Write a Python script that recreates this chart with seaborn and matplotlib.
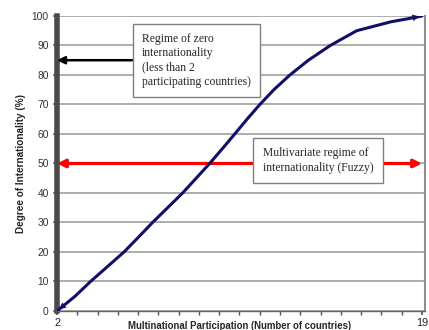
import numpy as np
import matplotlib
matplotlib.use('Agg')
import matplotlib.pyplot as plt
import pandas as pd
import seaborn as sns

# curve
countries = [2, 2.84, 3.56, 4.34, 5.12, 5.79, 6.45, 7.15, 7.85, 8.48, 9.11, 9.70,
             10.28, 10.85, 11.45, 12.1, 12.85, 13.71, 14.73, 15.96, 17.54, 18.3, 19]
degree = [0, 5, 10, 15, 20, 25, 30, 35, 40, 45, 50, 55,
          60, 65, 70, 75, 80, 85, 90, 95, 98, 99, 100]
yticks = [0, 10, 20, 30, 40, 50, 60, 70, 80, 90, 100]
xtick_labels = ['2', '19']
zero_level = 85
fuzzy_level = 50

sns.set_theme(style='white')
plt.rcParams['font.family'] = ['Liberation Sans', 'DejaVu Sans']

df = pd.DataFrame({'x': countries, 'y': degree})

fig = plt.figure(figsize=(4.29, 3.30), dpi=100)
ax = fig.add_axes([0.133, 0.0576, 0.858, 0.894])

for v in yticks:
    ax.axhline(v, color='#a0a0a0', lw=1.2, zorder=1)

sns.lineplot(data=df, x='x', y='y', ax=ax, color='#10106a', lw=2.2, zorder=4)
# arrowheads at both ends of the curve
ax.annotate('', xy=(countries[-1], degree[-1]), xytext=(countries[-2], degree[-2]),
            arrowprops=dict(arrowstyle='-|>', color='#10106a', lw=0, mutation_scale=12), zorder=5)
ax.annotate('', xy=(countries[0], degree[0]), xytext=(countries[1], degree[1]),
            arrowprops=dict(arrowstyle='-|>', color='#10106a', lw=0, mutation_scale=12), zorder=5)

# red double arrow
ax.annotate('', xy=(countries[0], fuzzy_level), xytext=(countries[-1], fuzzy_level),
            arrowprops=dict(arrowstyle='<|-|>', color='#ff0000', lw=2.3, mutation_scale=12,
                            shrinkA=0, shrinkB=0), zorder=3)
# black arrow from the box to the axis
ax.annotate('', xy=(countries[0], zero_level), xytext=(5.5, zero_level),
            arrowprops=dict(arrowstyle='-|>', color='black', lw=1.8, mutation_scale=11,
                            shrinkA=0, shrinkB=0), zorder=3)

box = dict(boxstyle='square,pad=0.75', fc='white', ec='#808080', lw=1)
ax.text(0.379, 0.849, 'Regime of zero\ninternationality\n(less than 2\nparticipating countries)',
        transform=ax.transAxes, ha='center', va='center', multialignment='left',
        fontsize=8.4, linespacing=1.25, family='Liberation Serif', bbox=box, zorder=6)
box2 = dict(boxstyle='square,pad=0.8', fc='white', ec='#808080', lw=1)
ax.text(0.709, 0.510, 'Multivariate regime of\ninternationality (Fuzzy)',
        transform=ax.transAxes, ha='center', va='center', multialignment='left',
        fontsize=8.4, linespacing=1.25, family='Liberation Serif', bbox=box2, zorder=6)

ax.set_xlim(2, 19.15)
ax.set_ylim(0, 100)
ax.set_yticks(yticks)
ax.set_yticklabels([str(v) for v in yticks], fontsize=7.4, color='#333333')
ax.set_xticks([countries[0], countries[-1]])
ax.set_xticklabels(xtick_labels, fontsize=7.8, color='#222222')
ax.set_xticks(np.linspace(2, 19, 19), minor=True)
ax.tick_params(axis='x', which='both', direction='out', length=3, color='#555555',
               bottom=True, pad=2)
ax.tick_params(axis='y', direction='out', length=3, color='#777777', left=True, pad=3)

ax.spines['left'].set_linewidth(4)
ax.spines['left'].set_color('#4a4a4a')
ax.spines['bottom'].set_color('#666666')
ax.spines['bottom'].set_linewidth(1)
ax.spines['right'].set_color('#909090')
ax.spines['right'].set_linewidth(1.5)
ax.spines['top'].set_visible(False)

ax.set_xlabel('Multinational Participation (Number of countries)', fontsize=6.9,
              fontweight='bold')
ax.xaxis.set_label_coords(0.497, -0.033)
ax.set_ylabel('Degree of Internationality (%)', fontsize=7.2, fontweight='bold', labelpad=4)

fig.savefig('out.png', dpi=100)
